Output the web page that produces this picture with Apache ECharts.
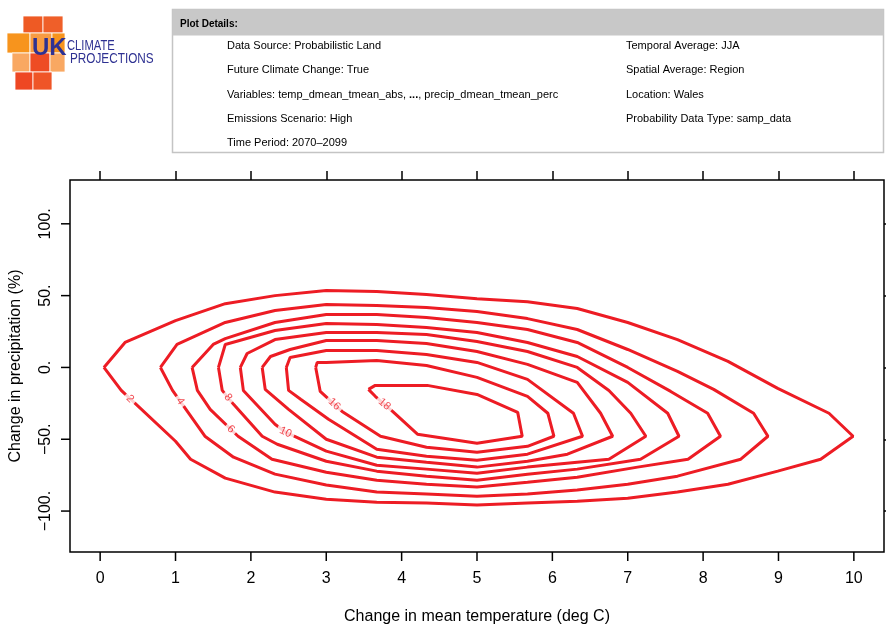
<!DOCTYPE html>
<html>
<head>
<meta charset="utf-8">
<script src="https://cdn.jsdelivr.net/npm/echarts@6/dist/echarts.min.js"></script>
<style>
  html, body { margin: 0; padding: 0; background: #fff; }
  #chart { width: 886px; height: 630px; }
</style>
</head>
<body>
<div id="chart"></div>
<script>
// tick values
const xTicks = [0, 1, 2, 3, 4, 5, 6, 7, 8, 9, 10];
const yTicks = [-100, -50, 0, 50, 100];
const xRange = [-0.4, 10.4];
const yRange = [-128.5, 130.5];

// contour levels and their lines, [temperature change, precipitation change %]
const levels = [2, 4, 6, 8, 10, 12, 14, 16, 18];
const contour2 = [[0.05,0],[0.33,17.4],[1.0,32.6],[1.66,44.4],[2.32,50],[3.0,53.5],[3.67,52.8],[4.33,50.7],[5.0,47.9],[5.67,45.8],[6.33,41],[7.0,31.3],[7.66,19.4],[8.33,4.2],[8.99,-14.6],[9.67,-31.9],[9.99,-47.9],[9.56,-63.9],[8.99,-72.2],[8.33,-81.3],[7.66,-86.8],[7.0,-91],[6.33,-93.1],[5.67,-94.4],[5.0,-95.8],[4.33,-94.4],[3.67,-93.8],[3.0,-91.7],[2.32,-86.8],[1.66,-77.1],[1.2,-63.9],[1.0,-51.4],[0.28,-16],[0.05,0]];
const contour4 = [[0.8,0],[1.02,16],[1.66,31.3],[2.32,39.6],[3.0,43.8],[3.67,43.1],[4.33,41.7],[5.0,38.9],[5.67,34],[6.33,26.4],[7.0,12.5],[7.66,-2.8],[8.14,-15.3],[8.67,-31.9],[8.86,-47.9],[8.5,-63.9],[7.66,-75.7],[7.0,-81.3],[6.33,-85.4],[5.67,-88.2],[5.0,-89.6],[4.33,-88.2],[3.67,-86.8],[3.0,-81.9],[2.32,-74.3],[1.77,-62.5],[1.39,-47.9],[0.96,-16],[0.8,0]];
const contour6 = [[1.22,0],[1.5,16],[1.66,20.1],[2.32,31.3],[3.0,36.8],[3.67,36.8],[4.33,34.7],[5.0,31.3],[5.67,26.4],[6.33,17.4],[7.0,0],[7.57,-16.7],[8.06,-31.9],[8.23,-47.9],[7.8,-63.9],[7.13,-69.4],[6.33,-76.4],[5.67,-79.9],[5.0,-83.3],[4.33,-81.3],[3.67,-78.5],[3.0,-73],[2.28,-63.9],[1.83,-47.9],[1.46,-29.2],[1.29,-16],[1.22,0]];
const contour8 = [[1.57,0],[1.66,16],[2.32,25.7],[3.0,30.6],[3.67,29.9],[4.33,27.8],[5.0,24.3],[5.67,17.4],[6.33,7.6],[7.0,-10.4],[7.53,-31.9],[7.68,-47.9],[7.17,-63.9],[6.33,-70.8],[5.67,-74.3],[5.0,-78.5],[4.33,-75.7],[3.67,-72.2],[3.0,-65.3],[2.35,-53.5],[2.15,-47.9],[1.77,-25.7],[1.62,-16],[1.57,0]];
const contour10 = [[1.86,0],[1.95,9.7],[2.32,19.4],[3.0,24.3],[3.67,24.3],[4.33,22.9],[5.0,18.1],[5.67,11.1],[6.33,0],[6.75,-16],[7.04,-31.9],[7.24,-47.9],[6.75,-63.9],[6.33,-66],[5.67,-69.4],[5.0,-73.6],[4.33,-70.8],[3.67,-68.1],[3.0,-58.3],[2.46,-45.1],[2.32,-39.6],[1.9,-16],[1.86,0]];
const contour12 = [[2.15,0],[2.26,7.6],[2.52,12.5],[3.0,18.8],[3.67,18.8],[4.33,16.7],[5.0,11.1],[5.67,2.1],[6.33,-10.4],[6.64,-31.9],[6.8,-47.9],[6.2,-60.4],[5.67,-65.3],[5.0,-69.4],[4.33,-66],[3.67,-62.5],[3.0,-50],[2.5,-29.2],[2.19,-15.3],[2.15,0]];
const contour14 = [[2.47,0],[2.52,6.9],[3.0,11.8],[3.67,11.8],[4.33,9],[5.0,3.5],[5.67,-8.3],[6.28,-31.9],[6.4,-47.9],[5.67,-60.4],[5.0,-64.6],[4.33,-61.8],[3.67,-56.9],[3.03,-36.1],[2.66,-22.2],[2.5,-16],[2.47,0]];
const contour16 = [[2.86,0],[2.88,3.5],[3.0,3.5],[3.67,4.9],[4.33,1.4],[5.0,-6.9],[5.67,-20.1],[5.94,-31.9],[6.02,-47.9],[5.67,-54.9],[5.0,-59],[4.33,-55.6],[3.72,-47.9],[3.21,-30.6],[2.92,-16.7],[2.86,0]];
const contour18 = [[3.56,-15.3],[3.65,-12.5],[4.34,-12.5],[5.0,-18.8],[5.54,-31.3],[5.6,-47.9],[5.0,-52.8],[4.21,-46.5],[3.88,-30.6],[3.65,-20.1],[3.56,-15.3]];
const contours = [contour2, contour4, contour6, contour8, contour10, contour12, contour14, contour16, contour18];

// contour labels
const labelLevels = [2, 4, 8, 6, 10, 16, 18];
const labelX = [0.37, 1.04, 1.70, 1.73, 2.46, 3.08, 3.76];
const labelY = [-23.4, -24.3, -20.8, -43.1, -45.1, -27.1, -26.4];

// plot details panel
const detailsLeft = [
  'Data Source: Probabilistic Land',
  'Future Climate Change: True',
  'Variables: temp_dmean_tmean_abs, {b|...}, precip_dmean_tmean_perc',
  'Emissions Scenario: High',
  'Time Period: 2070\u20132099'
];
const detailsRight = [
  'Temporal Average: JJA',
  'Spatial Average: Region',
  'Location: Wales',
  'Probability Data Type: samp_data'
];

const FONT = "'Liberation Sans', Arial, Helvetica, sans-serif";
const RED = '#ed1c24';
const BLUE = '#2e3192';

const chart = echarts.init(document.getElementById('chart'), null, { renderer: 'canvas' });

function fmtY(v) {
  return (v < 0 ? '\u2212' + Math.abs(v) : String(v)) + '.';
}

const logo = [
  { x: 23, y: 16, w: 20, h: 17, c: '#ee5a24' },
  { x: 43, y: 16, w: 20, h: 17, c: '#ef5f29' },
  { x: 7, y: 33, w: 23, h: 20, c: '#f7941d' },
  { x: 30, y: 33, w: 22, h: 20, c: '#f89b42' },
  { x: 52, y: 33, w: 13, h: 20, c: '#f7941d' },
  { x: 12, y: 53, w: 18, h: 19, c: '#f9a862' },
  { x: 30, y: 53, w: 20, h: 19, c: '#ee4c24' },
  { x: 50, y: 53, w: 15, h: 19, c: '#f9a862' },
  { x: 15, y: 72, w: 18, h: 18, c: '#ee4723' },
  { x: 33, y: 72, w: 19, h: 18, c: '#ef5527' }
];

const graphics = [];
logo.forEach(r => graphics.push({
  type: 'rect', shape: { x: r.x, y: r.y, width: r.w, height: r.h },
  style: { fill: r.c, stroke: '#fff', lineWidth: 0.8 }
}));
graphics.push({ type: 'text', x: 32, y: 48, style: { text: 'UK', font: "bold 24px " + FONT, fill: BLUE, textVerticalAlign: 'middle' } });
graphics.push({ type: 'text', x: 67, y: 46, scaleX: 0.8, style: { text: 'CLIMATE', font: "14px " + FONT, fill: BLUE, textVerticalAlign: 'middle' } });
graphics.push({ type: 'text', x: 70, y: 59, scaleX: 0.84, style: { text: 'PROJECTIONS', font: "14px " + FONT, fill: BLUE, textVerticalAlign: 'middle' } });

// details box
graphics.push({ type: 'rect', shape: { x: 172.5, y: 9.5, width: 711, height: 143 }, style: { fill: '#fff', stroke: '#c4c4c4', lineWidth: 1.5 } });
graphics.push({ type: 'rect', shape: { x: 172.5, y: 9.5, width: 711, height: 26 }, style: { fill: '#c8c8c8' } });
graphics.push({ type: 'text', x: 180, y: 24, style: { text: 'Plot Details:', font: "bold 10px " + FONT, fill: '#000', textVerticalAlign: 'middle' } });
detailsLeft.forEach((t, i) => graphics.push({
  type: 'text', x: 227, y: 46 + i * 24.3,
  style: { text: t, font: "11px " + FONT, fill: '#000', textVerticalAlign: 'middle', rich: { b: { fontWeight: 'bold', fontSize: 11, fontFamily: FONT } } }
}));
detailsRight.forEach((t, i) => graphics.push({
  type: 'text', x: 626, y: 46 + i * 24.3,
  style: { text: t, font: "11px " + FONT, fill: '#000', textVerticalAlign: 'middle' }
}));

const tickStyle = { color: '#000', width: 1.5 };

function buildSeries(labelData) {
  const s = contours.map((pts, i) => ({
    name: 'level ' + levels[i],
    type: 'line',
    data: pts,
    showSymbol: false,
    symbol: 'none',
    silent: true,
    z: 2,
    lineStyle: { color: RED, width: 3 }
  }));
  if (labelData) {
    s.push({
      type: 'scatter',
      data: labelData,
      symbol: 'circle',
      symbolSize: 1,
      itemStyle: { color: 'rgba(0,0,0,0)' },
      silent: true,
      z: 5,
      label: {
        show: true, position: 'inside', color: RED, fontSize: 11, fontFamily: FONT,
        backgroundColor: '#fff', padding: [1, 3], lineHeight: 12
      }
    });
  }
  return s;
}

// a tick-only axis (no labels), used for the top and right frame sides
function tickAxis(pos, isX, len) {
  const r = isX ? xRange : yRange;
  return {
    type: 'value', min: r[0], max: r[1], position: pos,
    axisLine: { show: false, onZero: false }, splitLine: { show: false },
    axisTick: { show: true, inside: false, length: len, lineStyle: tickStyle, customValues: isX ? xTicks : yTicks },
    axisLabel: { show: false }
  };
}

const option = {
  animation: false,
  backgroundColor: '#fff',
  graphic: { elements: graphics },
  grid: { left: 70, right: 2, top: 180, bottom: 77, show: true, borderColor: '#000', borderWidth: 1.5, backgroundColor: 'transparent' },
  xAxis: [
    {
      type: 'value', min: xRange[0], max: xRange[1], position: 'bottom',
      axisLine: { show: false, onZero: false },
      splitLine: { show: false },
      axisTick: { show: false },
      axisLabel: { show: true, customValues: xTicks, color: '#000', fontSize: 16, fontFamily: FONT, margin: 19 },
      name: 'Change in mean temperature (deg C)', nameLocation: 'middle', nameGap: 57,
      nameTextStyle: { color: '#000', fontSize: 16, fontFamily: FONT }
    },
    tickAxis('top', true, 9)
  ],
  yAxis: [
    {
      type: 'value', min: yRange[0], max: yRange[1], position: 'left',
      axisLine: { show: false, onZero: false }, splitLine: { show: false },
      axisTick: { show: false },
      axisLabel: { show: true, customValues: yTicks, formatter: fmtY, rotate: 90, color: '#000', fontSize: 16, fontFamily: FONT, margin: 16 },
      name: 'Change in precipitation (%)', nameLocation: 'middle', nameGap: 46,
      nameTextStyle: { color: '#000', fontSize: 16, fontFamily: FONT }
    },
    tickAxis('right', false, 8)
  ],
  series: buildSeries(null)
};

chart.setOption(option);

const toPx = v => chart.convertToPixel({ seriesIndex: 0 }, v);

// bottom and left tick marks, placed through the axis scales
const tickLines = [];
xTicks.forEach(v => {
  const p = toPx([v, yRange[0]]);
  tickLines.push({ type: 'line', shape: { x1: p[0], y1: p[1], x2: p[0], y2: p[1] + 9 }, style: { stroke: '#000', lineWidth: 1.5 } });
});
yTicks.forEach(v => {
  const p = toPx([xRange[0], v]);
  tickLines.push({ type: 'line', shape: { x1: p[0] - 9, y1: p[1], x2: p[0], y2: p[1] }, style: { stroke: '#000', lineWidth: 1.5 } });
});

// place labels on their contour, turned along the local segment
const labelData = labelLevels.map((lev, i) => {
  const pts = contours[levels.indexOf(lev)];
  const p = toPx([labelX[i], labelY[i]]);
  let best = null;
  for (let k = 0; k < pts.length - 1; k++) {
    const a = toPx(pts[k]);
    const b = toPx(pts[k + 1]);
    const dx = b[0] - a[0], dy = b[1] - a[1];
    const len2 = dx * dx + dy * dy || 1;
    let t = ((p[0] - a[0]) * dx + (p[1] - a[1]) * dy) / len2;
    t = Math.max(0, Math.min(1, t));
    const q = [a[0] + t * dx, a[1] + t * dy];
    const d = (q[0] - p[0]) ** 2 + (q[1] - p[1]) ** 2;
    if (!best || d < best.d) best = { d, q, ang: Math.atan2(dy, dx) * 180 / Math.PI };
  }
  let rot = -best.ang;
  if (rot > 90) rot -= 180;
  if (rot < -90) rot += 180;
  return { value: chart.convertFromPixel({ seriesIndex: 0 }, best.q), label: { rotate: rot, formatter: String(lev) } };
});

chart.setOption({
  graphic: { elements: graphics.concat(tickLines) },
  series: buildSeries(labelData)
});
</script>
</body>
</html>
